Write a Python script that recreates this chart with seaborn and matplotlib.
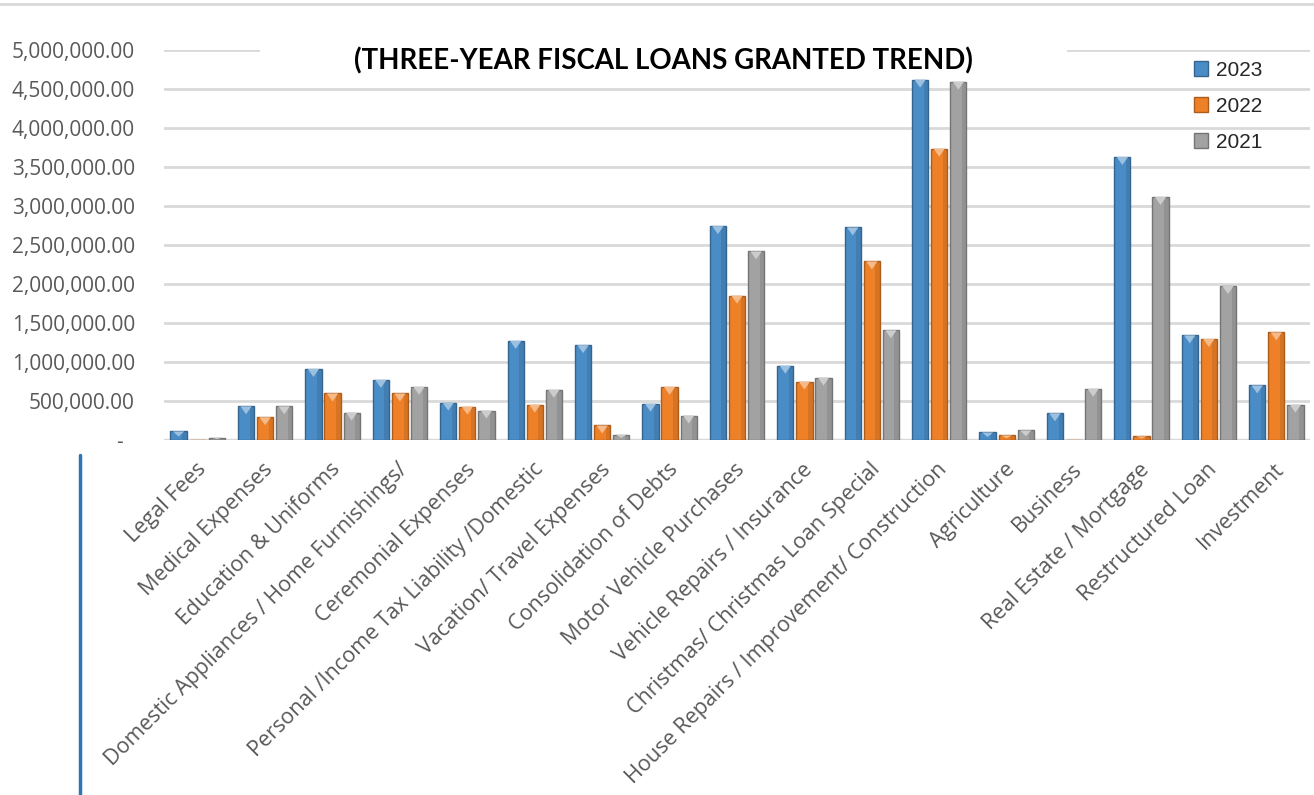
import matplotlib
matplotlib.use("Agg")
import matplotlib.pyplot as plt
import matplotlib.transforms as mtransforms
from matplotlib.patches import Polygon, Rectangle, Patch
from matplotlib.lines import Line2D
import matplotlib.colors as mcolors
import seaborn as sns
import pandas as pd

categories = [
    "Legal Fees", "Medical Expenses", "Education & Uniforms",
    "Domestic Appliances / Home Furnishings/", "Ceremonial Expenses",
    "Personal /Income Tax Liability /Domestic", "Vacation/ Travel Expenses",
    "Consolidation of Debts", "Motor Vehicle Purchases",
    "Vehicle Repairs / Insurance", "Christmas/ Christmas Loan Special",
    "House Repairs / Improvement/ Construction", "Agriculture", "Business",
    "Real Estate / Mortgage", "Restructured Loan", "Investment",
]
years = ["2023", "2022", "2021"]
v2023 = [110000, 432000, 911000, 771000, 479000, 1271000, 1216000, 466000,
         2742000, 953000, 2725000, 4620000, 97000, 343000, 3628000, 1342000, 700000]
v2022 = [6000, 292000, 597000, 597000, 428000, 453000, 186000, 682000,
         1851000, 750000, 2290000, 3736000, 59000, 6000, 47000, 1295000, 1380000]
v2021 = [30000, 432000, 352000, 682000, 377000, 644000, 68000, 314000,
         2418000, 800000, 1407000, 4594000, 123000, 657000, 3115000, 1974000, 453000]
colors = {"2023": "#4A8CC6", "2022": "#EE8128", "2021": "#A2A2A2"}

rows = []
for yr, vals in zip(years, [v2023, v2022, v2021]):
    for c, v in zip(categories, vals):
        rows.append({"Category": c, "Year": yr, "Amount": v})
df = pd.DataFrame(rows)

sns.set_theme(style="white")
plt.rcParams["font.family"] = ["Open Sans", "DejaVu Sans"]

W, H = 1314, 795
fig = plt.figure(figsize=(W / 100, H / 100), dpi=100)
ax = fig.add_axes([164 / W, 1 - 440 / H, (1310 - 164) / W, (440 - 50) / H])

sns.barplot(data=df, x="Category", y="Amount", hue="Year", hue_order=years,
            order=categories, palette=colors, width=0.85, gap=0.15,
            errorbar=None, ax=ax, legend=False, saturation=1)

ax.set_ylim(0, 5_000_000)
ax.set_xlim(-0.5, len(categories) - 0.5)
ax.set_yticks([i * 500_000 for i in range(11)])
ax.set_yticklabels(["-  " if v == 0 else f"{v:,.2f}" for v in ax.get_yticks()])
ax.yaxis.grid(True, color="#D9D9D9", lw=2)
ax.set_axisbelow(True)
for s in ax.spines.values():
    s.set_visible(False)
ax.axhline(0, color="#D9D9D9", lw=2.5, zorder=0.6)
ax.set_xlabel("")
ax.set_ylabel("")
ax.tick_params(axis="y", length=0, pad=21, labelsize=15, labelcolor="#595959")
ax.tick_params(axis="x", length=0, pad=19, labelsize=15.5, labelcolor="#595959")
offset = mtransforms.ScaledTranslation(5 / 100, 0, fig.dpi_scale_trans)
for lab in ax.get_xticklabels():
    lab.set_rotation(45)
    lab.set_ha("right")
    lab.set_va("center")
    lab.set_rotation_mode("anchor")
    lab.set_transform(lab.get_transform() + offset)

# bevel / gradient shading derived from the drawn bars
px_per_unit = (440 - 50) / 5_000_000
for p in list(ax.patches):
    x, w, h = p.get_x(), p.get_width(), p.get_height()
    if h <= 0:
        continue
    base = mcolors.to_rgb(p.get_facecolor())
    dark = tuple(c * 0.72 for c in base)
    light = tuple(c + (1 - c) * 0.45 for c in base)
    p.set_edgecolor(dark)
    p.set_linewidth(1.0)
    ax.add_patch(Rectangle((x + w * 0.72, 0), w * 0.28, h, facecolor=dark,
                           alpha=0.35, edgecolor="none", zorder=2.2))
    d = min(8 / px_per_unit, h * 0.6)
    tri = Polygon([(x + w * 0.15, h), (x + w * 0.85, h), (x + w / 2, h - d)],
                  closed=True, facecolor=light, edgecolor="none", zorder=2.5)
    ax.add_patch(tri)

# white box behind title hiding the top gridline
ax.add_patch(Rectangle((260 / W, 1 - 75 / H), (1067 - 260) / W, 40 / H,
                       transform=fig.transFigure, facecolor="white",
                       edgecolor="none", zorder=0.8, clip_on=False))
fig.text(663 / W, 1 - 61 / H, "(THREE-YEAR FISCAL LOANS GRANTED TREND)",
         ha="center", va="center", fontsize=19.9, fontweight="bold", color="black",
         family=["Lato", "DejaVu Sans"])

handles = [Patch(facecolor=colors[y], edgecolor=tuple(c * 0.72 for c in mcolors.to_rgb(colors[y])))
           for y in years]
leg = ax.legend(handles, years, loc="upper left",
                bbox_to_anchor=(1175 / W, 1 - 42 / H), bbox_transform=fig.transFigure,
                frameon=False, handlelength=0.7, handleheight=0.7,
                handletextpad=0.35, labelspacing=0.82,
                prop={"family": ["Liberation Sans", "DejaVu Sans"], "size": 15})

fig.add_artist(Line2D([0, 1], [1 - 4 / H, 1 - 4 / H], color="#D9D9D9", lw=2,
                      transform=fig.transFigure))
fig.add_artist(Line2D([80 / W, 80 / W], [1 - 455 / H, 0], color="#2E75B6", lw=2.5,
                      transform=fig.transFigure))

fig.savefig("out.png", dpi=100)
